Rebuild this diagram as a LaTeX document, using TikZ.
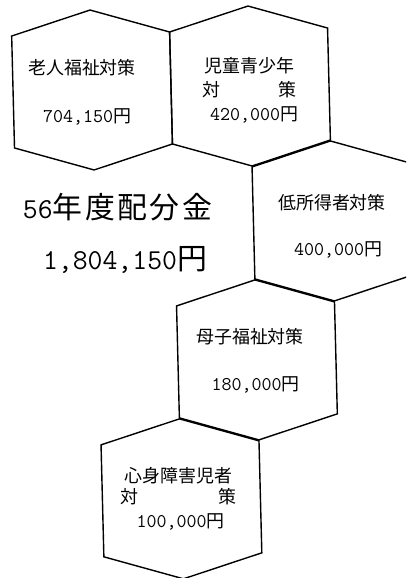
\documentclass[tikz,border=0pt]{standalone}
\usepackage{fontspec}
\setmainfont{Noto Sans CJK JP}
\newcommand\dg[1]{{\ttfamily #1}}
\begin{document}
\begin{tikzpicture}[x=1bp,y=-1bp,
  hexline/.style={line width=1.4bp, line join=miter},
  small/.style={inner sep=0pt, font=\fontsize{18}{20}\selectfont},
  amt/.style={inner sep=0pt, font=\fontsize{19.5}{21}\selectfont},
  big/.style={inner sep=0pt, font=\fontsize{30}{32}\selectfont}]
\useasboundingbox (0,0) rectangle (406,578);
\newcommand\hexat[2]{\draw[hexline, shift={(#1,#2)}] (0,-80) -- (79,-56) -- (79,56) -- (0,80) -- (-79,56) -- (-79,-56) -- cycle;}
\begin{scope}
  \clip (0,0) rectangle (406,578);
  \begin{scope}[rotate around={1.45:(250,86)}]
    \hexat{92}{86}
    \hexat{250}{86}
    \hexat{329}{223}
    \hexat{250}{360}
    \hexat{171}{497}
  \end{scope}
\end{scope}
% hex 1
\node[small] (t1a) at (82,68) {老人福祉対策};
\node[amt] (t1b) at (87,117) {\dg{704,150}\fontsize{18}{20}\selectfont 円};
% hex 2
\node[small] (t2a) at (249.5,66) {児童青少年};
\node[small, anchor=west] (t2b) at (202,90) {対};
\node[small, anchor=east] (t2c) at (297,90) {策};
\node[amt] (t2d) at (254,115) {\dg{420,000}\fontsize{18}{20}\selectfont 円};
% hex 3
\node[small] (t3a) at (332,203) {低所得者対策};
\node[amt] (t3b) at (338,250) {\dg{400,000}\fontsize{18}{20}\selectfont 円};
% hex 4
\node[small] (t4a) at (250,337) {母子福祉対策};
\node[amt] (t4b) at (255.5,385) {\dg{180,000}\fontsize{18}{20}\selectfont 円};
% hex 5
\node[small] (t5a) at (178.5,476) {心身障害児者};
\node[small, anchor=west] (t5b) at (120,497) {対};
\node[small, anchor=east] (t5c) at (237,497) {策};
\node[amt] (t5d) at (180.5,522) {\dg{100,000}\fontsize{18}{20}\selectfont 円};
% title
\node[big] (ta) at (117.5,207) {\dg{\fontsize{29}{31}\selectfont 56}年\kern2.5bp 度\kern2.5bp 配\kern2.5bp 分\kern2.5bp 金};
\node[big] (tb) at (125,260) {\dg{\fontsize{29}{31}\selectfont 1,804,150}円};
\end{tikzpicture}
\end{document}
